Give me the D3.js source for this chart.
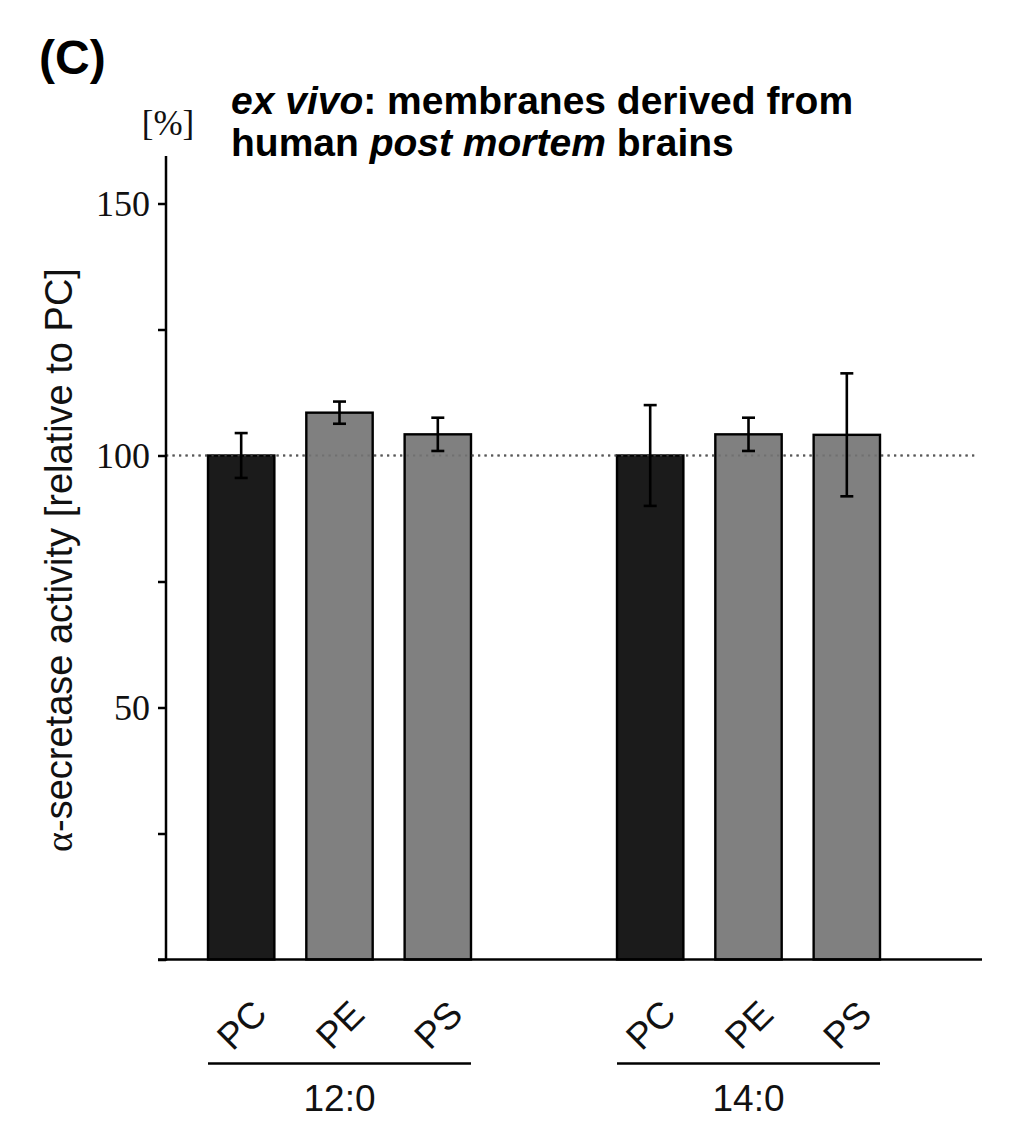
<!DOCTYPE html>
<html><head><meta charset="utf-8">
<script src="https://cdn.jsdelivr.net/npm/d3@7"></script>
<style>body{margin:0;background:#fff}svg{display:block}</style>
</head><body>
<script>
const groups = ["12:0", "14:0"];
const lipids = ["PC", "PE", "PS"];
const means = { "12:0": [100, 108.5, 104.2], "14:0": [100, 104.2, 104.1] };
const errors = { "12:0": [4.45, 2.2, 3.3], "14:0": [10, 3.3, 12.2] };
const yTicks = [0, 25, 50, 75, 100, 125, 150];
const yLabelTicks = [50, 100, 150];
const refLine = 100;

const W = 1024, H = 1148;
const svg = d3.select("body").append("svg").attr("width", W).attr("height", H);
svg.append("rect").attr("width", W).attr("height", H).attr("fill", "#fff");

const axL = 166, axR = 982, axB = 959.5;
const y = d3.scaleLinear().domain([0, 100]).range([axB, 455.5]);
const yTop = 159.4;

const xo = d3.scaleBand().domain(groups).range([208, 880]).paddingInner(0.357).paddingOuter(0);
const xi = d3.scaleBand().domain(lipids).range([0, xo.bandwidth()]).paddingInner(0.325).paddingOuter(0);
const fills = { PC: "#1b1b1b", PE: "#808080", PS: "#808080" };

svg.append("line").attr("x1", axL).attr("x2", 977).attr("y1", y(refLine)).attr("y2", y(refLine))
  .attr("stroke", "#444").attr("stroke-width", 2.2).attr("stroke-dasharray", "2.2,4.3");

const data = [];
groups.forEach(g => lipids.forEach((l, i) => data.push({ g, l, v: means[g][i], e: errors[g][i] })));

svg.append("g").selectAll("rect").data(data).join("rect")
  .attr("x", d => xo(d.g) + xi(d.l))
  .attr("width", xi.bandwidth())
  .attr("y", d => y(d.v))
  .attr("height", d => axB - y(d.v))
  .attr("fill", d => fills[d.l])
  .attr("stroke", "#000").attr("stroke-width", 2.4);

svg.append("line").attr("x1", axL).attr("x2", 977).attr("y1", y(refLine)).attr("y2", y(refLine))
  .attr("stroke", "#666").attr("stroke-width", 2.2).attr("stroke-dasharray", "2.2,4.3").attr("opacity", 0.6);

const eb = svg.append("g").attr("stroke", "#000").attr("stroke-width", 2.6);
data.forEach(d => {
  const cx = xo(d.g) + xi(d.l) + xi.bandwidth() / 2;
  eb.append("line").attr("x1", cx).attr("x2", cx).attr("y1", y(d.v + d.e)).attr("y2", y(d.v - d.e));
  eb.append("line").attr("x1", cx - 6.5).attr("x2", cx + 6.5).attr("y1", y(d.v + d.e)).attr("y2", y(d.v + d.e));
  eb.append("line").attr("x1", cx - 6.5).attr("x2", cx + 6.5).attr("y1", y(d.v - d.e)).attr("y2", y(d.v - d.e));
});

const yAxis = d3.axisLeft(y).tickValues(yTicks).tickSize(8).tickPadding(8)
  .tickFormat(d => yLabelTicks.includes(d) ? d : "");
const ga = svg.append("g").attr("transform", `translate(${axL},0)`).call(yAxis);
ga.select(".domain").remove();
ga.selectAll(".tick line").attr("stroke", "#000").attr("stroke-width", 2.5);
ga.selectAll(".tick text").attr("font-family", "Liberation Serif, Times New Roman, serif")
  .attr("font-size", 36).attr("fill", "#111");
svg.append("line").attr("x1", axL).attr("x2", axL).attr("y1", y(yTop)).attr("y2", axB + 1.2)
  .attr("stroke", "#000").attr("stroke-width", 2.5);
svg.append("line").attr("x1", axL - 8).attr("x2", axR).attr("y1", axB).attr("y2", axB)
  .attr("stroke", "#000").attr("stroke-width", 2.5);

const sans = "Liberation Sans, Arial, Helvetica, sans-serif";
data.forEach(d => {
  const cx = xo(d.g) + xi(d.l) + xi.bandwidth() / 2;
  svg.append("text").attr("transform", `translate(${cx},1024.5) rotate(-45)`)
    .attr("text-anchor", "middle").attr("dy", "0.36em")
    .attr("font-family", sans).attr("font-size", 37).attr("fill", "#111").text(d.l);
});
groups.forEach(g => {
  svg.append("line").attr("x1", xo(g)).attr("x2", xo(g) + xo.bandwidth()).attr("y1", 1063.5).attr("y2", 1063.5)
    .attr("stroke", "#000").attr("stroke-width", 2.4);
  svg.append("text").attr("x", xo(g) + xo.bandwidth() / 2).attr("y", 1111).attr("text-anchor", "middle")
    .attr("font-family", sans).attr("font-size", 37).attr("fill", "#111").text(g);
});

const yt = svg.append("text").attr("transform", "translate(72,560) rotate(-90)")
  .attr("text-anchor", "middle").attr("font-family", sans).attr("font-size", 38).attr("fill", "#111");
yt.append("tspan").attr("font-family", "Liberation Serif, Times New Roman, serif").text("α");
yt.append("tspan").text("-secretase activity [relative to PC]");

svg.append("text").attr("x", 168).attr("y", 135).attr("text-anchor", "middle")
  .attr("font-family", "Liberation Serif, Times New Roman, serif").attr("font-size", 35).attr("fill", "#111").text("[%]");

svg.append("text").attr("x", 39).attr("y", 74).attr("font-family", sans).attr("font-weight", "bold")
  .attr("font-size", 48).attr("fill", "#000").text("(C)");

const t1 = svg.append("text").attr("x", 231).attr("y", 114).attr("font-family", sans).attr("font-weight", "bold")
  .attr("font-size", 39).attr("fill", "#000");
t1.append("tspan").attr("font-style", "italic").text("ex vivo");
t1.append("tspan").text(": membranes derived from");
const t2 = svg.append("text").attr("x", 231).attr("y", 156).attr("font-family", sans).attr("font-weight", "bold")
  .attr("font-size", 39).attr("fill", "#000");
t2.append("tspan").text("human ");
t2.append("tspan").attr("font-style", "italic").text("post mortem");
t2.append("tspan").text(" brains");
</script>
</body></html>
